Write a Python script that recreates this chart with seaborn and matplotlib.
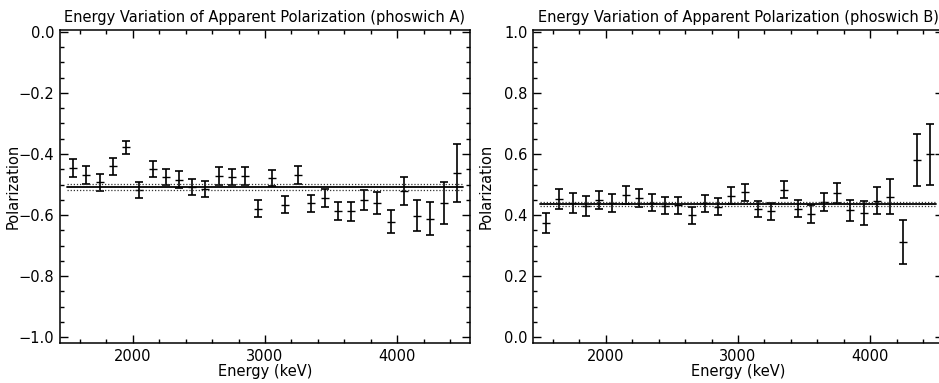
import numpy as np
import pandas as pd
import matplotlib
matplotlib.use("Agg")
import matplotlib.pyplot as plt
import seaborn as sns
from matplotlib.ticker import MultipleLocator, FuncFormatter

# ---- data ----
energy = [1550, 1650, 1750, 1850, 1950, 2050, 2150, 2250, 2350, 2450,
          2550, 2650, 2750, 2850, 2950, 3050, 3150, 3250, 3350, 3450,
          3550, 3650, 3750, 3850, 3950, 4050, 4150, 4250, 4350, 4450]

pol_a = [-0.447, -0.468, -0.493, -0.441, -0.378, -0.518, -0.449, -0.476, -0.484, -0.507,
         -0.516, -0.472, -0.476, -0.472, -0.579, -0.479, -0.566, -0.468, -0.562, -0.545,
         -0.587, -0.587, -0.551, -0.562, -0.622, -0.522, -0.602, -0.612, -0.560, -0.461]
err_a = [0.030, 0.030, 0.028, 0.029, 0.022, 0.026, 0.027, 0.027, 0.027, 0.026,
         0.026, 0.028, 0.027, 0.028, 0.027, 0.027, 0.027, 0.029, 0.029, 0.030,
         0.029, 0.031, 0.033, 0.036, 0.038, 0.045, 0.050, 0.054, 0.069, 0.095]

pol_b = [0.375, 0.452, 0.440, 0.430, 0.450, 0.440, 0.465, 0.455, 0.440, 0.430,
         0.432, 0.400, 0.438, 0.428, 0.464, 0.475, 0.421, 0.413, 0.483, 0.421,
         0.403, 0.443, 0.472, 0.415, 0.406, 0.447, 0.460, 0.312, 0.580, 0.599]
err_b = [0.033, 0.033, 0.032, 0.032, 0.030, 0.030, 0.030, 0.029, 0.028, 0.028,
         0.028, 0.028, 0.027, 0.027, 0.028, 0.028, 0.026, 0.028, 0.028, 0.027,
         0.030, 0.030, 0.032, 0.035, 0.040, 0.044, 0.058, 0.072, 0.085, 0.100]

fit_range = [1500, 4500]
fit_a, fit_a_sig = -0.507, 0.010
fit_b, fit_b_sig = 0.436, 0.007

titles = ["Energy Variation of Apparent Polarization (phoswich A)",
          "Energy Variation of Apparent Polarization (phoswich B)"]

sns.set_style("ticks")
plt.rcParams["font.family"] = ["DejaVu Sans"]
plt.rcParams["text.color"] = "black"
plt.rcParams["axes.labelcolor"] = "black"
plt.rcParams["xtick.color"] = "black"
plt.rcParams["ytick.color"] = "black"


def fmt_y(v, pos):
    if abs(v) < 1e-9:
        v = 0.0
    return f"{v:.1f}".replace("-", "\u2212")


W, H = 939, 383
TOP, BOT = 30, 343
fig = plt.figure(figsize=(W / 100, H / 100), dpi=100)
axA = fig.add_axes([60 / W, (H - BOT) / H, 410 / W, (BOT - TOP) / H])
axB = fig.add_axes([533 / W, (H - BOT) / H, 410 / W, (BOT - TOP) / H])

panels = [
    (axA, pol_a, err_a, fit_a, fit_a_sig, (-1.019, 0.006)),
    (axB, pol_b, err_b, fit_b, fit_b_sig, (-0.019, 1.006)),
]

for ax, pol, err, fit, sig, ylim in panels:
    df = pd.DataFrame({"Energy": energy, "Pol": pol, "Err": err})
    ax.errorbar(df["Energy"], df["Pol"], yerr=df["Err"], fmt="none",
                ecolor="black", elinewidth=1.2, capsize=3.2, capthick=1.2)
    sns.scatterplot(data=df, x="Energy", y="Pol", ax=ax, marker="_",
                    s=30, color="black", linewidth=1.0, legend=False)
    fit_df = pd.DataFrame({"Energy": fit_range, "y": [fit, fit]})
    sns.lineplot(data=fit_df, x="Energy", y="y", ax=ax, color="black",
                 linewidth=1.3)
    for s in (-sig, sig):
        ax.plot(fit_range, [fit + s, fit + s], color="#333333",
                linewidth=0.9, linestyle=(0, (1, 1.5)))
    ax.set_xlim(1450, 4550)
    ax.set_ylim(*ylim)
    ax.xaxis.set_major_locator(MultipleLocator(1000))
    ax.xaxis.set_minor_locator(MultipleLocator(200))
    ax.yaxis.set_major_locator(MultipleLocator(0.2))
    ax.yaxis.set_minor_locator(MultipleLocator(0.05))
    ax.yaxis.set_major_formatter(FuncFormatter(fmt_y))
    ax.tick_params(which="both", direction="in", top=True, right=True,
                   width=1.0, labelsize=10.5, pad=4)
    ax.tick_params(which="major", length=6)
    ax.tick_params(which="minor", length=3)
    for sp in ax.spines.values():
        sp.set_linewidth(1.1)
        sp.set_color("black")
    ax.set_xlabel("Energy (keV)", fontsize=10.5, labelpad=0)
    ax.set_ylabel("Polarization", fontsize=10.5)
    ax.yaxis.set_label_coords(-0.097, 0.5)

axA.set_title(titles[0], fontsize=10.5, pad=6)
axB.set_title(titles[1], fontsize=10.5, pad=6)

fig.savefig("out.png", dpi=100)
